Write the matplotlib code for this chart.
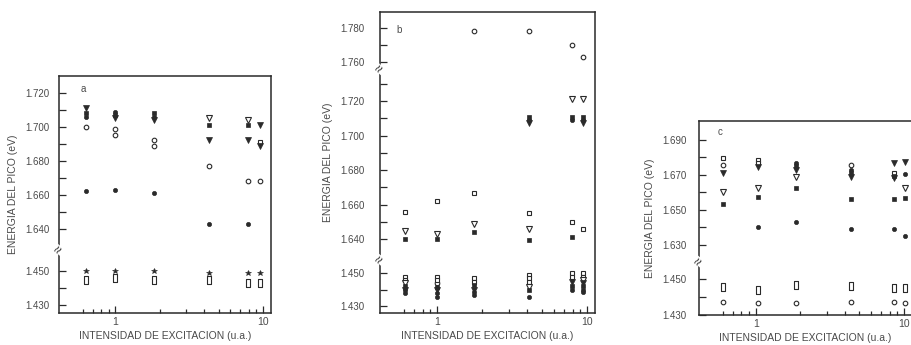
import numpy as np
import matplotlib
matplotlib.use('Agg')
import matplotlib.pyplot as plt


#intensity columns (u.a.) for each panel
a_x=[0.63,1.0,1.83,4.27,7.9,9.55]
b_x=[0.61,1.0,1.76,4.1,7.9,9.4]
c_x=[0.606,1.03,1.87,4.36,8.5,10.1]

#peak energies (eV) as (column, energy) for each marker kind
#oc open circle, fc filled circle, os open square, fs filled square
#ot open triangle, ft filled triangle, or open rectangle, st star
a_oc=[(0,1.700),(1,1.699),(1,1.695),(2,1.692),(2,1.689),(3,1.677),(4,1.668),(5,1.668)]
a_fc=[(0,1.706),(0,1.662),(1,1.709),(1,1.663),(2,1.706),(2,1.661),(3,1.643),(4,1.643)]
a_os=[(5,1.691)]
a_fs=[(0,1.708),(1,1.707),(2,1.708),(3,1.701),(4,1.701)]
a_ot=[(3,1.705),(4,1.704)]
a_ft=[(0,1.711),(1,1.705),(2,1.704),(3,1.692),(4,1.692),(5,1.701),(5,1.689)]
a_or=[(0,1.445),(1,1.446),(2,1.445),(3,1.445),(4,1.443),(5,1.443)]
a_st=[(0,1.451),(1,1.451),(2,1.450),(3,1.449),(4,1.449),(5,1.449)]

b_oc=[(2,1.778),(3,1.778),(4,1.770),(5,1.763),(1,1.444)]
b_fc=[(3,1.709),(4,1.709),(5,1.709),(0,1.440),(0,1.438),(1,1.438),(1,1.4355),
      (2,1.4383),(2,1.4367),(3,1.4355),(4,1.440),(5,1.440),(5,1.4385)]
b_os=[(0,1.656),(1,1.662),(2,1.667),(3,1.655),(4,1.650),(5,1.646),
      (0,1.4476),(0,1.4458),(1,1.4476),(1,1.4458),(2,1.447),(2,1.4445),
      (3,1.4488),(3,1.447),(3,1.4445),(4,1.450),(4,1.4476),(5,1.450),(5,1.4476)]
b_fs=[(0,1.640),(1,1.640),(2,1.644),(3,1.636),(4,1.641),(3,1.711),(4,1.711),(5,1.711),
      (0,1.442),(1,1.4415),(2,1.4427),(3,1.4397),(4,1.442),(5,1.442)]
b_ot=[(0,1.645),(1,1.643),(2,1.649),(3,1.646),(4,1.721),(5,1.721),
      (0,1.444),(3,1.4415),(5,1.4458)]
b_ft=[(3,1.707),(5,1.7074),(0,1.4395),(1,1.440),(2,1.440),(4,1.4445),(5,1.444)]

c_oc=[(0,1.6757),(3,1.6757),(0,1.437),(1,1.4367),(2,1.4367),(3,1.437),(4,1.437),(5,1.4367)]
c_fc=[(1,1.640),(2,1.677),(2,1.6432),(3,1.673),(3,1.639),(4,1.639),(5,1.6706),(5,1.635)]
c_os=[(0,1.6797),(1,1.6786),(1,1.677),(4,1.6712)]
c_fs=[(0,1.6535),(1,1.6574),(2,1.6626),(2,1.675),(3,1.671),(3,1.6563),(4,1.6694),
      (4,1.6563),(5,1.6569)]
c_ot=[(0,1.660),(1,1.6626),(2,1.6689),(5,1.6626)]
c_ft=[(0,1.6712),(1,1.6746),(2,1.673),(3,1.669),(4,1.6769),(4,1.6683),(5,1.6774)]
c_or=[(0,1.4456),(1,1.4439),(2,1.4467),(3,1.446),(4,1.445),(5,1.445)]

#labelled and unlabelled energy ticks
a_major=[1.430,1.450,1.640,1.660,1.680,1.700,1.720]
a_minor=[1.440,1.650,1.670,1.690,1.710]
b_major=[1.430,1.450,1.640,1.660,1.680,1.700,1.720,1.760,1.780]
b_minor=[1.440,1.650,1.670,1.690,1.710,1.730,1.770]
c_major=[1.430,1.450,1.630,1.650,1.670,1.690]
c_minor=[1.440,1.640,1.660,1.680]


ink='#2a2a2a'
grey='#4a4a4a'
plt.rcParams['font.family']=['Liberation Sans','DejaVu Sans']

rect=[(-0.28,-0.5),(0.28,-0.5),(0.28,0.5),(-0.28,0.5),(-0.28,-0.5)]
styles={
    'oc':dict(marker='o',mfc='white',mec=ink,ms=3.3,mew=0.8),
    'fc':dict(marker='o',mfc=ink,mec=ink,ms=3.0,mew=0.5),
    'os':dict(marker='s',mfc='white',mec=ink,ms=3.2,mew=0.8),
    'fs':dict(marker='s',mfc=ink,mec=ink,ms=3.0,mew=0.5),
    'ot':dict(marker='v',mfc='white',mec=ink,ms=4.3,mew=0.8),
    'ft':dict(marker='v',mfc=ink,mec=ink,ms=4.6,mew=0.5),
    'or':dict(marker=rect,mfc='white',mec=ink,ms=6.0,mew=0.8),
    'st':dict(marker='*',mfc=ink,mec=ink,ms=3.8,mew=0.4),
}


#broken energy axis: piecewise linear map between value and position
def broken_scale(ax,vals,pos):

    vals=[1.0]+vals+[2.5]
    pos=[pos[0]-(vals[1]-1.0)/0.02]+pos+[pos[-1]+(2.5-vals[-2])/0.02]

    def fwd(v):
        return np.interp(v,vals,pos)

    def inv(p):
        return np.interp(p,pos,vals)

    ax.set_yscale('function',functions=(fwd,inv))


def panel(fig,rect_ax,xs,series,knots,ylim,major,minor,breaks,letter,letterpos,ypad):

    ax=fig.add_axes(rect_ax)
    ax.set_xscale('log')
    broken_scale(ax,knots[0],knots[1])

    for kind,pts in series:
        ax.plot([xs[i] for i,_ in pts],[v for _,v in pts],lw=0,**styles[kind])

    ax.set_xlim(0.415,11.3)
    ax.set_ylim(*ylim)

    ax.set_xticks([1,10])
    ax.set_xticklabels(['1','10'])
    ax.set_xticks([0.6,0.7,0.8,0.9,2,3,4,5,6,7,8,9],minor=True)
    ax.xaxis.set_minor_formatter(plt.NullFormatter())

    ax.set_yticks(major)
    ax.set_yticklabels(['%.3f' % t for t in major])
    ax.set_yticks(minor,minor=True)
    ax.yaxis.set_minor_formatter(plt.NullFormatter())

    ax.tick_params(which='both',direction='in',top=False,right=False,
                   color=ink,width=0.9,labelsize=7,labelcolor=grey)
    ax.tick_params(axis='x',which='major',length=5,pad=3,labelsize=7.5)
    ax.tick_params(axis='x',which='minor',length=3)
    ax.tick_params(axis='y',which='both',length=5,pad=ypad)

    for s in ax.spines.values():
        s.set_color(ink)
        s.set_linewidth(1.1)

    #little wavy marks where the energy axis is cut
    for b in breaks:
        ax.text(0,b,'\u2248',transform=ax.get_yaxis_transform(),ha='center',va='center',
                fontsize=10,color=ink,rotation=50,
                bbox=dict(facecolor='white',edgecolor='none',pad=0.1))

    ax.text(letterpos[0],letterpos[1],letter,transform=ax.transAxes,fontsize=7,
            color=grey,ha='center',va='center')

    ax.set_ylabel('ENERGIA DEL PICO (eV)',fontsize=7.5,color=grey,labelpad=5)
    ax.set_xlabel('INTENSIDAD DE EXCITACION (u.a.)',fontsize=7.5,color=grey,labelpad=3)
    return ax


def main():

    fig=plt.figure(figsize=(9.11,3.45),dpi=100)
    W,H=911.0,345.0

    panel(fig,[59/W,32/H,212/W,237/H],a_x,
          [('oc',a_oc),('os',a_os),('ot',a_ot),('or',a_or),
           ('fc',a_fc),('fs',a_fs),('ft',a_ft),('st',a_st)],
          ([1.430,1.450,1.640],[0.0,1.0,2.24]),(1.4253,1.7299),
          a_major,a_minor,[1.545],'a',(0.113,0.945),7)

    panel(fig,[380/W,32/H,215/W,301/H],b_x,
          [('oc',b_oc),('os',b_os),('ot',b_ot),
           ('fc',b_fc),('fs',b_fs),('ft',b_ft)],
          ([1.430,1.450,1.640,1.730,1.760],[0.0,0.96,1.94,6.44,7.07]),(1.426,1.789),
          b_major,b_minor,[1.524,1.75],'b',(0.088,0.94),11)

    panel(fig,[699/W,30/H,213/W,194/H],c_x,
          [('oc',c_oc),('os',c_os),('ot',c_ot),('or',c_or),
           ('fc',c_fc),('fs',c_fs),('ft',c_ft)],
          ([1.430,1.450,1.630],[0.0,1.03,2.0]),(1.430,1.7008),
          c_major,c_minor,[1.542],'c',(0.099,0.943),9)

    fig.savefig('out.png',dpi=100,facecolor='white')


if __name__ == '__main__':
    main()
